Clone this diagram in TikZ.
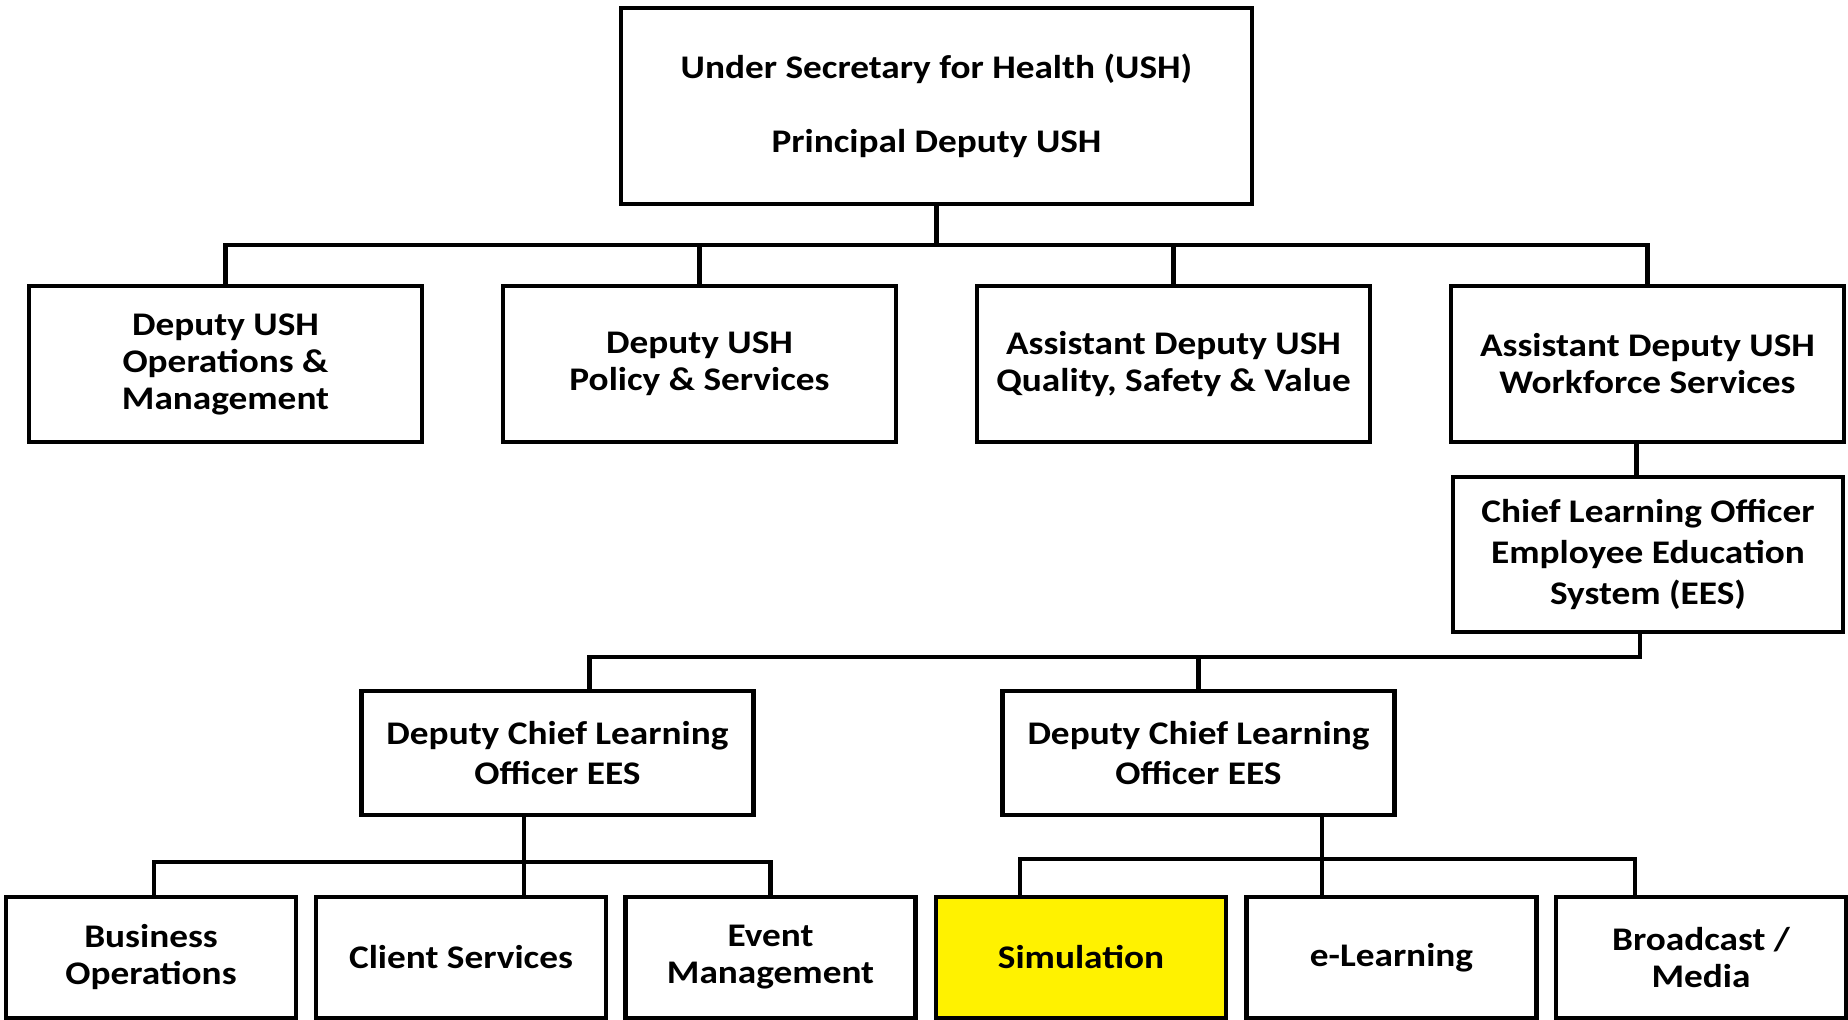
\documentclass[tikz,border=0pt]{standalone}
\usepackage{fontspec}
\setmainfont{Carlito}[FakeStretch=1.13]
\usetikzlibrary{positioning}

\begin{document}
\begin{tikzpicture}[
        x=0.5pt, y=-0.5pt,
        font=\bfseries\fontsize{16.5}{18.5}\selectfont,
        box/.style={
            rectangle,
            draw,
            line width=2.4pt,
            align=center,
            inner sep=2pt,
            fill=white,
        },
        topbox/.style={
            box,
            minimum width=315.5pt,
            minimum height=98pt,
        },
        midbox/.style={
            box,
            minimum width=196.5pt,
            minimum height=78pt,
        },
        depbox/.style={
            box,
            minimum width=196pt,
            minimum height=62pt,
            font=\bfseries\fontsize{16.5}{20}\selectfont,
        },
        unitbox/.style={
            box,
            minimum width=145pt,
            minimum height=60.5pt,
        },
        link/.style={
            line width=2.4pt,
        },
    ]

    % Fix the page
    \useasboundingbox (0,0) rectangle (1848,1020);

    % Draw top level named ush
    \node [topbox] (ush) at (936.5,106) {Under Secretary for Health (USH)\\[18.5pt]Principal Deputy USH};

    % Draw deputies, named dops, dpol, aqsv and aws
    \node [midbox] (dops) at (225.5,364) {Deputy USH\\Operations \&\\Management};
    \node [midbox] (dpol) at (699.5,364) {Deputy USH\\Policy \& Services};
    \node [midbox] (aqsv) at (1173.5,364) {Assistant Deputy USH\\Quality, Safety \& Value};
    \node [midbox] (aws) at (1647.5,364) {Assistant Deputy USH\\Workforce Services};

    % Chief learning officer and his deputies
    \node [midbox, minimum width=195pt, minimum height=77.5pt,
           font=\bfseries\fontsize{16.5}{20.3}\selectfont] (clo) at (1648,554.5)
          {Chief Learning Officer\\Employee Education\\System (EES)};
    \node [depbox] (depl) at (557.5,753) {Deputy Chief Learning\\Officer EES};
    \node [depbox] (depr) at (1198.5,753) {Deputy Chief Learning\\Officer EES};

    % Draw units, named as basis bo, cs, em, sim, elrn, bcm
    \node [unitbox] (bo) at (151,957.5) {Business\\Operations};
    \node [unitbox] (cs) at (461,957.5) {Client Services};
    \node [unitbox] (em) at (770.5,957.5) {Event\\Management};
    \node [unitbox, fill=yellow] (sim) at (1081,957.5) {Simulation};
    \node [unitbox] (elrn) at (1391.5,957.5) {e-Learning};
    \node [unitbox] (bcm) at (1701,957.5) {Broadcast /\\Media};

    % Bus heights
    \coordinate (bus1) at (0,245);
    \coordinate (bus2) at (0,657);
    \coordinate (bus3) at (0,862);
    \coordinate (bus4) at (0,859);

    % Top to deputies
    \draw [link] (ush.south) -- (ush.south |- bus1);
    \draw [link] (dops.north) -- (dops.north |- bus1) -- (aws.north |- bus1) -- (aws.north);
    \draw [link] (dpol.north) -- (dpol.north |- bus1);
    \draw [link] (aqsv.north) -- (aqsv.north |- bus1);

    % Workforce to chief learning officer
    \draw [link] ([xshift=-5.5pt]aws.south) -- ([xshift=-5.5pt]aws.south |- clo.north);
    \draw [link] ([xshift=-4pt]clo.south) -- ([xshift=-4pt]clo.south |- bus2)
        -- ([xshift=16pt]depl.north |- bus2) -- ([xshift=16pt]depl.north);
    \draw [link] (depr.north) -- (depr.north |- bus2);

    % Left units
    \draw [link] ([xshift=-16.75pt]depl.south) -- ([xshift=-16.75pt]depl.south |- cs.north);
    \draw [link] ([xshift=1.5pt]bo.north) -- ([xshift=1.5pt]bo.north |- bus3) -- (em.north |- bus3) -- (em.north);

    % Right units
    \draw [link] ([xshift=61.75pt]depr.south) -- ([xshift=61.75pt]depr.south |- elrn.north);
    \draw [link] ([xshift=-30.5pt]sim.north) -- ([xshift=-30.5pt]sim.north |- bus4)
        -- ([xshift=-33pt]bcm.north |- bus4) -- ([xshift=-33pt]bcm.north);

\end{tikzpicture}
\end{document}
